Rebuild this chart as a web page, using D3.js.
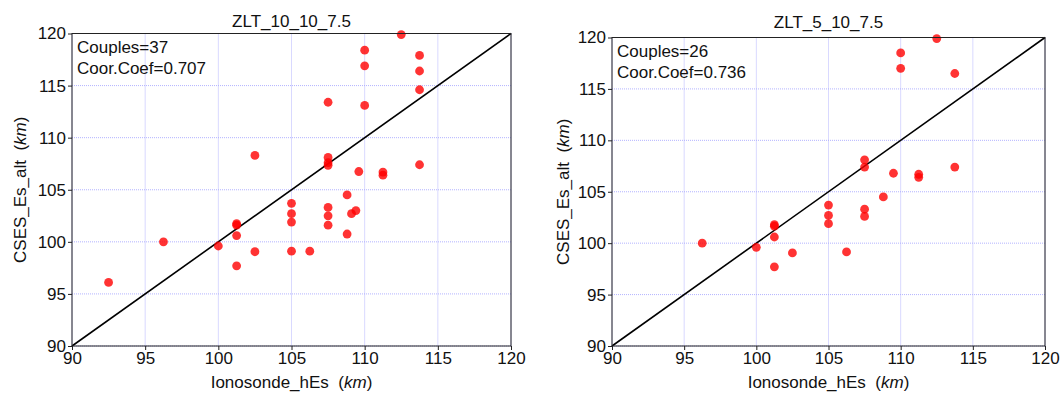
<!DOCTYPE html>
<html><head><meta charset="utf-8">
<script src="https://cdn.jsdelivr.net/npm/d3@7"></script>
<style>body{margin:0;background:#fff;} text{font-family:"Liberation Sans",Arial,sans-serif;}</style>
</head><body>
<svg id="c" width="1062" height="393"></svg>
<script>
const ticks = [90, 95, 100, 105, 110, 115, 120];
const titles = ["ZLT_10_10_7.5", "ZLT_5_10_7.5"];
const couples = [37, 26];
const coefs = ["0.707", "0.736"];
const xLeft = [112.5,110,113.75,110,113.75,113.75,107.5,110,102.5,107.5,107.5,107.5,113.75,109.6,111.25,111.25,108.8,
  105,107.5,105,107.5,109.1,109.4,105,101.25,101.25,107.5,101.25,96.25,108.8,100,102.5,105,106.25,101.25,92.5];
const yLeft = [119.9,118.4,117.9,116.9,116.4,114.6,113.4,113.1,108.3,108.1,107.6,107.35,107.4,106.75,106.7,106.4,104.5,
  103.7,103.3,102.7,102.5,102.7,103.0,101.9,101.75,101.6,101.6,100.6,100.0,100.75,99.6,99.05,99.1,99.1,97.7,96.1];
const xRight = [112.5,110,110,113.75,107.5,107.5,113.75,109.5,111.25,111.25,108.8,
  105,107.5,105,107.5,105,101.25,101.25,101.25,96.25,100,102.5,106.25,101.25];
const yRight = [119.9,118.5,117.0,116.5,108.1,107.4,107.4,106.8,106.7,106.4,104.5,
  103.7,103.3,102.7,102.6,101.9,101.8,101.65,100.6,100.0,99.6,99.05,99.15,97.7];

const FS = 17;
const panels = [
  {x0:72, x1:511, y0:33.5, y1:346, xs:xLeft, ys:yLeft, tx:26, ty:27},
  {x0:612, x1:1045, y0:37.5, y1:346, xs:xRight, ys:yRight, tx:569, ty:28}
];
const svg = d3.select("#c");
panels.forEach((p, i) => {
  const x = d3.scaleLinear().domain([90,120]).range([p.x0, p.x1]);
  const y = d3.scaleLinear().domain([90,120]).range([p.y1, p.y0]);
  const g = svg.append("g");
  // grid
  g.selectAll(".gx").data(ticks).enter().append("line")
    .attr("x1", d=>x(d)).attr("x2", d=>x(d)).attr("y1", p.y0).attr("y2", p.y1)
    .attr("stroke", "#aaaaff").attr("stroke-width", 0.9).attr("stroke-dasharray", "1,1");
  g.selectAll(".gy").data(ticks).enter().append("line")
    .attr("y1", d=>y(d)).attr("y2", d=>y(d)).attr("x1", p.x0).attr("x2", p.x1)
    .attr("stroke", "#aaaaff").attr("stroke-width", 0.9).attr("stroke-dasharray", "1,1");
  // diagonal
  g.append("line").attr("x1", x(90)).attr("y1", y(90)).attr("x2", x(120)).attr("y2", y(120))
    .attr("stroke", "#000").attr("stroke-width", 1.6);
  // points
  g.selectAll("circle").data(p.xs.map((v,k)=>[v,p.ys[k]])).enter().append("circle")
    .attr("cx", d=>x(d[0])).attr("cy", d=>y(d[1])).attr("r", 4.4)
    .attr("fill", "#ff0000").attr("fill-opacity", 0.8);
  // frame
  g.append("rect").attr("x", p.x0).attr("y", p.y0).attr("width", p.x1-p.x0).attr("height", p.y1-p.y0)
    .attr("fill", "none").attr("stroke", "#222").attr("stroke-width", 1);
  // axes
  const xa = g.append("g").attr("transform", `translate(0,${p.y1})`)
    .call(d3.axisBottom(x).tickValues(ticks).tickSize(4).tickSizeOuter(0).tickPadding(2));
  const ya = g.append("g").attr("transform", `translate(${p.x0},0)`)
    .call(d3.axisLeft(y).tickValues(ticks).tickSize(4).tickSizeOuter(0).tickPadding(2));
  [xa, ya].forEach(a => {
    a.attr("font-size", FS).attr("font-family", "Liberation Sans, Arial, sans-serif");
    a.select(".domain").remove();
    a.selectAll("text").attr("fill", "#111");
    a.selectAll("line").attr("stroke", "#222");
  });
  // title
  g.append("text").attr("x", (p.x0+p.x1)/2).attr("y", p.ty).attr("text-anchor", "middle")
    .attr("font-size", FS).attr("fill", "#111").text(titles[i]);
  // annotations
  g.append("text").attr("x", p.x0+5).attr("y", p.y0+19).attr("font-size", FS).attr("fill", "#111")
    .text("Couples=" + couples[i]);
  g.append("text").attr("x", p.x0+5).attr("y", p.y0+40).attr("font-size", FS).attr("fill", "#111")
    .text("Coor.Coef=" + coefs[i]);
  // x label
  const xl = g.append("text").attr("x", (p.x0+p.x1)/2).attr("y", 388).attr("text-anchor", "middle")
    .attr("font-size", FS).attr("fill", "#111");
  xl.append("tspan").text("Ionosonde_hEs\u00a0\u00a0(");
  xl.append("tspan").attr("font-style", "italic").text("km");
  xl.append("tspan").text(")");
  // y label
  const yl = g.append("text").attr("transform", `translate(${p.tx},${(p.y0+p.y1)/2}) rotate(-90)`)
    .attr("text-anchor", "middle").attr("font-size", FS).attr("fill", "#111");
  yl.append("tspan").text("CSES_Es_alt\u00a0\u00a0(");
  yl.append("tspan").attr("font-style", "italic").text("km");
  yl.append("tspan").text(")");
});
</script>
</body></html>
